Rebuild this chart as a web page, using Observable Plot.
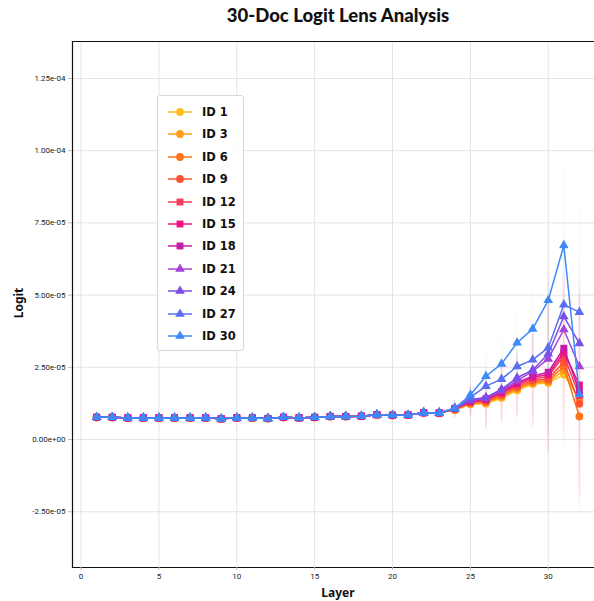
<!DOCTYPE html>
<html><head><meta charset="utf-8">
<script src="https://cdn.jsdelivr.net/npm/d3@7"></script>
<script src="https://cdn.jsdelivr.net/npm/@observablehq/plot@0.6"></script>
<style>
body{margin:0;background:#fff;}
#wrap{position:relative;width:594px;height:601px;overflow:hidden;background:#fff;}
#title{position:absolute;left:0;top:4px;width:676px;text-align:center;font-family:Lato,"Noto Sans",sans-serif;font-weight:900;font-size:18.5px;color:#111;}
#chart{position:absolute;left:0;top:30px;}
#xlab{position:absolute;left:0;top:584px;width:676px;text-align:center;font-family:"Noto Sans",sans-serif;font-weight:700;font-size:12px;color:#111;}
#ylab{position:absolute;left:18px;top:303px;transform:translate(-50%,-50%) rotate(-90deg);font-family:"Noto Sans",sans-serif;font-weight:700;font-size:12px;color:#111;white-space:nowrap;}
#legend{position:absolute;left:157px;top:95px;width:87px;height:256px;border:1px solid #d8d8d8;border-radius:3px;background:rgba(255,255,255,0.85);box-sizing:border-box;}
.row{position:absolute;left:9px;height:16px;display:flex;align-items:center;}
.row span{margin-left:9px;font-family:"DejaVu Sans",sans-serif;font-weight:700;font-size:11.5px;color:#111;}
</style></head>
<body><div id="wrap">
<div id="title">30-Doc Logit Lens Analysis</div>
<div id="chart"></div>
<div id="xlab">Layer</div>
<div id="ylab">Logit</div>
<div id="legend"></div>
</div>
<script>
// values in units of 1e-5
const layers = [1,2,3,4,5,6,7,8,9,10,11,12,13,14,15,16,17,18,19,20,21,22,23,24,25,26,27,28,29,30,31,32];
const ids = ["ID 1","ID 3","ID 6","ID 9","ID 12","ID 15","ID 18","ID 21","ID 24","ID 27","ID 30"];
const colors = ["#ffbd1c","#ff9e1a","#ff7418","#ff5233","#f43c5e","#f0157c","#c81ca8","#a444d8","#7a4ee8","#5a6ff0","#3d8af7"];
const symbols = ["circle","circle","circle","circle","square","square","square","triangle","triangle","triangle","triangle"];
// layers 1-23 (shared by all series)
const early = [0.77,0.77,0.75,0.75,0.75,0.75,0.75,0.75,0.72,0.75,0.75,0.73,0.77,0.75,0.77,0.80,0.80,0.81,0.86,0.84,0.85,0.93,0.92];
// layers 24-32 per series
const late = [
  [1.02,1.22,1.24,1.44,1.70,1.92,1.96,2.25,1.40],
  [1.03,1.24,1.27,1.48,1.75,1.96,2.00,2.39,1.35],
  [1.04,1.26,1.30,1.52,1.79,2.00,2.04,2.53,0.80],
  [1.05,1.28,1.33,1.56,1.84,2.05,2.10,2.68,1.24],
  [1.06,1.30,1.36,1.60,1.89,2.10,2.18,2.91,1.52],
  [1.07,1.31,1.39,1.63,1.93,2.16,2.25,3.02,1.89],
  [1.08,1.33,1.41,1.66,1.97,2.20,2.33,3.16,1.67],
  [1.08,1.35,1.43,1.70,2.04,2.36,2.79,3.81,2.53],
  [1.08,1.38,1.46,1.74,2.14,2.41,2.97,4.26,3.33],
  [1.08,1.46,1.85,2.09,2.53,2.76,3.18,4.67,4.41],
  [1.08,1.55,2.19,2.62,3.35,3.83,4.82,6.72,1.56]
];
// error half-width per layer
const spread = [0.1,0.1,0.1,0.1,0.1,0.1,0.1,0.1,0.1,0.1,0.1,0.1,0.1,0.1,0.1,0.1,0.1,0.1,0.15,0.15,0.15,0.2,0.2,0.3,0.5,1.0,1.0,1.1,1.6,2.6,2.7,3.6];
const xTicks = [0,5,10,15,20,25,30];
const yTicks = [-2.5,0,2.5,5,7.5,10,12.5];

const series = ids.map((id,i)=>({
  id, color: colors[i], symbol: symbols[i],
  rows: layers.map((L,j)=>({id, layer: L, v: j < early.length ? early[j] : late[i][j-early.length], sd: spread[j], color: colors[i]}))
}));
const allRows = series.flatMap(s=>s.rows);

const fmt = d => (d*1e-5).toExponential(2).replace(/e([+-])(\d)$/,"e$10$2");
const xDom = [-0.55, 32.97], yDom = [-4.43, 13.78];

const marks = [
  Plot.gridX(xTicks,{stroke:"#e4e4e4",strokeOpacity:1}),
  Plot.gridY(yTicks,{stroke:"#e4e4e4",strokeOpacity:1}),
  Plot.ruleX(allRows,{x:"layer",y1:d=>d.v-d.sd,y2:d=>d.v+d.sd,stroke:"color",strokeOpacity:0.022,strokeWidth:2}),
];
series.forEach(s=>{
  marks.push(Plot.line(s.rows,{x:"layer",y:"v",stroke:s.color,strokeWidth:1.5}));
  marks.push(Plot.dot(s.rows,{x:"layer",y:"v",fill:s.color,symbol:s.symbol,r:s.symbol==="circle"?3.9:(s.symbol==="square"?3.9:3.6),stroke:"none"}));
});
marks.push(
  Plot.ruleX([xDom[0]],{stroke:"#111",strokeWidth:1.2}),
  Plot.ruleY([yDom[0],yDom[1]],{stroke:"#111",strokeWidth:1.2}),
  Plot.axisX({ticks:xTicks,tickSize:3,tickPadding:3,stroke:"#bbb",fill:"#222",label:null,tickFormat:d=>String(d)}),
  Plot.axisY({ticks:yTicks,tickSize:4,tickPadding:3,stroke:"#bbb",fill:"#222",label:null,tickFormat:fmt})
);

const plot = Plot.plot({
  width:594, height:571, marginLeft:72, marginRight:0, marginTop:11, marginBottom:34,
  x:{domain:xDom}, y:{domain:yDom},
  color:{type:"identity"},
  style:{fontFamily:"Roboto, sans-serif",fontSize:"8px",background:"transparent",overflow:"visible"},
  marks
});
document.getElementById("chart").appendChild(plot);

// legend
const leg = document.getElementById("legend");
series.forEach((s,i)=>{
  const row = document.createElement("div");
  row.className="row";
  row.style.top = (8 + i*22.4) + "px";
  const sz = s.symbol==="triangle" ? Math.PI*3.6*3.6 : Math.PI*3.9*3.9;
  const sym = {circle:d3.symbolCircle,square:d3.symbolSquare,triangle:d3.symbolTriangle}[s.symbol];
  const path = d3.symbol(sym, sz)();
  row.innerHTML = `<svg width="26" height="16"><line x1="1" x2="25" y1="8" y2="8" stroke="${s.color}" stroke-width="1.5"/><path transform="translate(13,8)" d="${path}" fill="${s.color}"/></svg><span>${s.id}</span>`;
  leg.appendChild(row);
});
</script>
</body></html>
